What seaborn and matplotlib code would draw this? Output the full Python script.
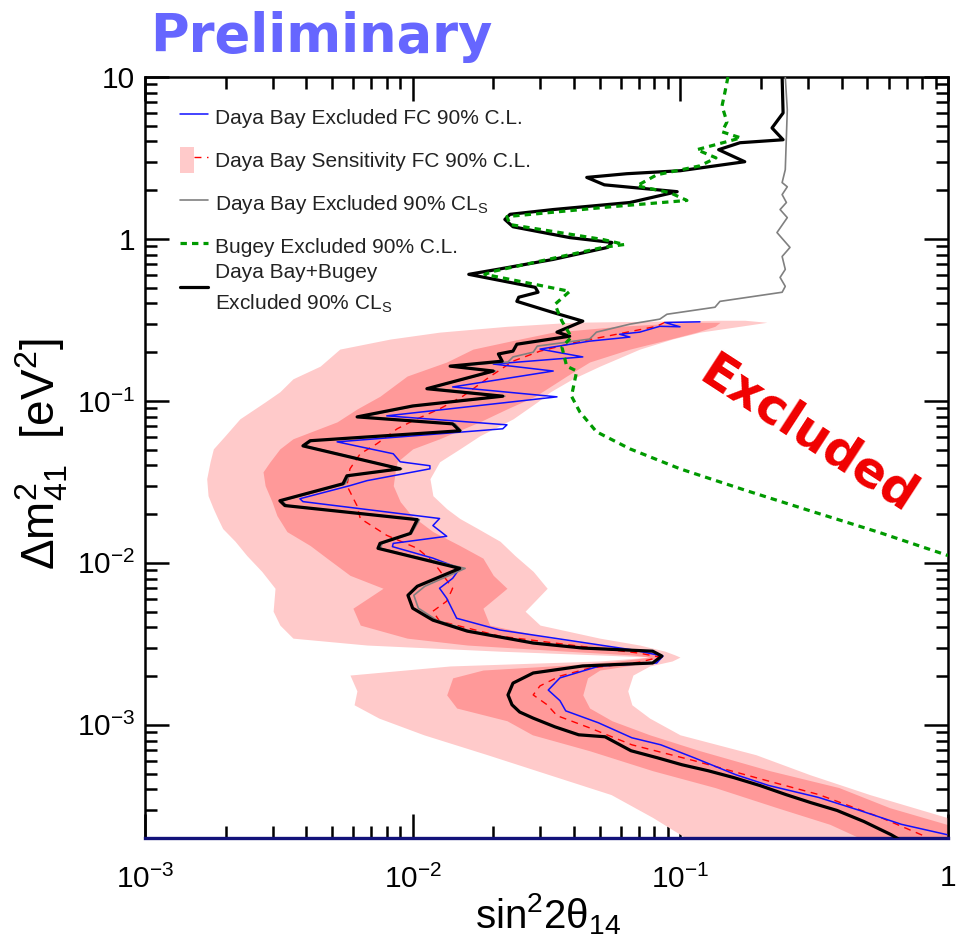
import numpy as np
import matplotlib
matplotlib.use("Agg")
import matplotlib.pyplot as plt
import seaborn as sns
from matplotlib.lines import Line2D
from matplotlib.patches import Patch
from matplotlib.legend_handler import HandlerTuple
from matplotlib.ticker import LogLocator, FuncFormatter, NullFormatter

# ---------------------------------------------------------------
# Exclusion contours in the (sin^2 2theta14, dm^2_41) plane
# ---------------------------------------------------------------

# Daya Bay + Bugey combined, 90% CLs
comb_s = [0.240, 0.242, 0.220, 0.242, 0.167, 0.139, 0.174, 0.100, 0.0631, 0.0447,
          0.052, 0.0973, 0.0648, 0.0335, 0.0231, 0.0221, 0.0237, 0.0386, 0.0555, 0.0535,
          0.0335, 0.0207, 0.0162, 0.0287, 0.0294, 0.0249, 0.0245, 0.0332, 0.0432, 0.0346,
          0.0386, 0.0245, 0.0237, 0.0209, 0.0216, 0.0138, 0.0200, 0.0113, 0.0217, 0.0100,
          0.0062, 0.0141, 0.0150, 0.00414, 0.00389, 0.00898, 0.00568, 0.00549, 0.00319, 0.00333,
          0.0104, 0.0098, 0.00755, 0.00742, 0.0150, 0.0104, 0.0096, 0.0100, 0.0119, 0.0160,
          0.0282, 0.0432, 0.0788, 0.0853, 0.0788, 0.0432, 0.0282, 0.0237, 0.0227, 0.0235,
          0.0251, 0.0282, 0.0340, 0.0417, 0.0523, 0.0654, 0.0818, 0.1014, 0.1268, 0.1586,
          0.1983, 0.248, 0.307, 0.385, 0.485, 0.612, 0.661]
comb_dm2 = [10.0, 6.00, 4.85, 4.10, 3.93, 3.56, 3.00, 2.64, 2.53, 2.40,
            2.16, 1.96, 1.68, 1.52, 1.42, 1.32, 1.19, 1.02, 0.952, 0.887,
            0.748, 0.649, 0.605, 0.503, 0.469, 0.437, 0.412, 0.353, 0.311, 0.266,
            0.251, 0.224, 0.203, 0.195, 0.176, 0.164, 0.153, 0.119, 0.107, 0.0931,
            0.0797, 0.0722, 0.0654, 0.0568, 0.0528, 0.0381, 0.0345, 0.0308, 0.0242, 0.0226,
            0.0185, 0.0152, 0.0132, 0.0123, 0.00925, 0.00717, 0.00631, 0.00525, 0.00443, 0.00379,
            0.00320, 0.00298, 0.00285, 0.00266, 0.00241, 0.00231, 0.00209, 0.00181, 0.00153, 0.00133,
            0.00120, 0.00110, 0.000972, 0.000868, 0.000844, 0.000692, 0.000627, 0.000567, 0.000521, 0.000472,
            0.000422, 0.000371, 0.000331, 0.000296, 0.000253, 0.000210, 0.000195]

# Bugey, 90% C.L.
bugey_s = [0.1506, 0.1468, 0.1431, 0.1493, 0.1431, 0.1682, 0.1153, 0.1359, 0.1184, 0.0816,
           0.0688, 0.0916, 0.1058, 0.0559, 0.0225, 0.0231, 0.0513, 0.0619, 0.0513, 0.0200,
           0.0186, 0.0386, 0.0340, 0.0361, 0.0392, 0.0361, 0.0376, 0.0410, 0.0392, 0.0421,
           0.0486, 0.0648, 0.0997, 0.1771, 0.313, 0.555, 1.0]
bugey_dm2 = [10.0, 8.09, 6.63, 5.28, 4.59, 4.21, 3.56, 3.17, 2.83, 2.49,
             2.13, 1.93, 1.73, 1.585, 1.375, 1.228, 0.993, 0.925, 0.887, 0.631,
             0.605, 0.475, 0.395, 0.311, 0.248, 0.215, 0.164, 0.153, 0.107, 0.0856,
             0.0645, 0.0506, 0.0381, 0.0279, 0.0207, 0.0154, 0.0111]

# Daya Bay alone, 90% CLs
dyb_cls_s = [0.2466, 0.2509, 0.2466, 0.2400, 0.2509, 0.2400, 0.249, 0.2358, 0.2509, 0.2296,
             0.2568, 0.2400, 0.2466, 0.2358, 0.2466, 0.2400, 0.1406, 0.1347, 0.0891, 0.0838,
             0.0648, 0.0486, 0.0458, 0.0292, 0.0282, 0.0237, 0.0227, 0.0140, 0.0204, 0.0116,
             0.0221, 0.0102, 0.0064, 0.0144, 0.0152, 0.0042, 0.00396, 0.0091, 0.0058, 0.0056,
             0.00325, 0.00339, 0.0106, 0.0099, 0.0077, 0.00755, 0.0157, 0.0111, 0.0101, 0.0105,
             0.0123, 0.0164, 0.0287, 0.0432, 0.0788, 0.0853, 0.0788, 0.0432, 0.0282, 0.0237,
             0.0227, 0.0235, 0.0251, 0.0282, 0.0340, 0.0417, 0.0523, 0.0654, 0.0818, 0.1014,
             0.1268, 0.1586, 0.1983, 0.248, 0.307, 0.385, 0.485, 0.612, 0.661]
dyb_cls_dm2 = [10.0, 6.27, 2.68, 2.23, 2.10, 1.88, 1.68, 1.52, 1.355, 1.096,
               0.887, 0.78, 0.649, 0.579, 0.51, 0.469, 0.412, 0.379, 0.343, 0.320,
               0.298, 0.266, 0.241, 0.218, 0.200, 0.187, 0.174, 0.164, 0.153, 0.120,
               0.107, 0.0931, 0.0797, 0.0722, 0.0654, 0.0568, 0.0528, 0.0381, 0.0345, 0.0308,
               0.0242, 0.0226, 0.0185, 0.0152, 0.0132, 0.0123, 0.00925, 0.00717, 0.00631, 0.00525,
               0.00443, 0.00379, 0.00320, 0.00298, 0.00285, 0.00266, 0.00241, 0.00231, 0.00209, 0.00181,
               0.00153, 0.00133, 0.00120, 0.00110, 0.000972, 0.000868, 0.000844, 0.000692, 0.000627, 0.000567,
               0.000521, 0.000472, 0.000422, 0.000371, 0.000331, 0.000296, 0.000253, 0.000210, 0.000195]

# Daya Bay alone, Feldman-Cousins 90% C.L.
dyb_fc_s = [0.1184, 0.0876, 0.0997, 0.0838, 0.0705, 0.0593, 0.0648, 0.0458, 0.0299, 0.0432,
            0.0200, 0.0335, 0.0141, 0.0346, 0.0080, 0.0225, 0.0217, 0.00522, 0.00846, 0.00898,
            0.0116, 0.0116, 0.00675, 0.00583, 0.00379, 0.00389, 0.0126, 0.0119, 0.0134, 0.00846,
            0.0084, 0.0119, 0.0150, 0.0141, 0.0126, 0.0134, 0.0146, 0.0212, 0.0376, 0.0665,
            0.0861, 0.0816, 0.0500, 0.0355, 0.0321, 0.0355, 0.0373, 0.0494, 0.0659, 0.0845,
            0.1124, 0.1612, 0.214, 0.329, 0.468, 0.670, 0.990]
dyb_fc_dm2 = [0.308, 0.305, 0.287, 0.289, 0.266, 0.258, 0.248, 0.234, 0.209, 0.187,
              0.169, 0.153, 0.122, 0.106, 0.0809, 0.0712, 0.0673, 0.0559, 0.0472, 0.0421,
              0.0398, 0.0381, 0.0322, 0.0300, 0.0249, 0.0239, 0.0188, 0.0170, 0.0146, 0.0132,
              0.0126, 0.0107, 0.00925, 0.00803, 0.00697, 0.00605, 0.00455, 0.00385, 0.00334, 0.00290,
              0.00266, 0.00241, 0.00231, 0.00195, 0.00164, 0.00141, 0.00122, 0.00103, 0.000832, 0.000753,
              0.000627, 0.000492, 0.000422, 0.000356, 0.000296, 0.000243, 0.000210]

# Daya Bay expected sensitivity (median), FC 90% C.L.
sens_s = [0.0876, 0.0816, 0.0531, 0.0410, 0.0299, 0.0237, 0.0194, 0.0154, 0.0126, 0.0100,
          0.00875, 0.00735, 0.00637, 0.00583, 0.00568, 0.00619, 0.00637, 0.0080, 0.0104, 0.0119,
          0.0126, 0.0141, 0.0134, 0.0119, 0.0126, 0.0212, 0.0421, 0.0705, 0.0838, 0.0705,
          0.0458, 0.0355, 0.0299, 0.0282, 0.0318, 0.0346, 0.0458, 0.0659, 0.1124, 0.1915,
          0.329, 0.56, 0.82]
sens_dm2 = [0.306, 0.289, 0.251, 0.231, 0.203, 0.176, 0.141, 0.107, 0.0893, 0.0753,
            0.0673, 0.0544, 0.0472, 0.0381, 0.0300, 0.0226, 0.0188, 0.0148, 0.0123, 0.0102,
            0.00899, 0.00697, 0.00580, 0.00503, 0.00437, 0.00353, 0.00306, 0.00277, 0.00262, 0.00244,
            0.00224, 0.00200, 0.00174, 0.00153, 0.00133, 0.00114, 0.000958, 0.000753, 0.000601, 0.000472,
            0.000371, 0.000268, 0.000205]

# Sensitivity bands: outer (2 sigma) and inner (1 sigma)
band2_dm2 = [0.315, 0.306, 0.289, 0.266, 0.241, 0.209, 0.164, 0.137, 0.114, 0.0986,
             0.0775, 0.0609, 0.0506, 0.0421, 0.0331, 0.0260, 0.0216, 0.0188, 0.0163, 0.0136,
             0.0111, 0.00886, 0.00697, 0.00503, 0.00413, 0.00343, 0.00311, 0.00285, 0.00270, 0.00262,
             0.00248, 0.00231, 0.00203, 0.00162, 0.00133, 0.00110, 0.000868, 0.000654, 0.000492, 0.000371,
             0.000268, 0.000200]
band2_lo = [0.1406, 0.0396, 0.0225, 0.0126, 0.00823, 0.00534, 0.00451, 0.00357, 0.00319, 0.00281,
            0.00226, 0.00199, 0.00180, 0.00175, 0.00170, 0.00172, 0.00180, 0.00187, 0.00195, 0.00217,
            0.00240, 0.00273, 0.00306, 0.00301, 0.00319, 0.00357, 0.00675, 0.0212, 0.0500, 0.0768,
            0.0500, 0.0138, 0.00583, 0.00619, 0.00604, 0.00748, 0.0110, 0.0190, 0.0324, 0.0551,
            0.0788, 0.105]
band2_hi = [0.1740, 0.2105, 0.1668, 0.1184, 0.0932, 0.0705, 0.0500, 0.0396, 0.0327, 0.0292,
            0.0237, 0.0178, 0.0150, 0.0126, 0.0116, 0.0119, 0.0134, 0.0150, 0.0175, 0.0212,
            0.0241, 0.0282, 0.0318, 0.0263, 0.0299, 0.0500, 0.0705, 0.0876, 0.0956, 0.0997,
            0.0932, 0.0768, 0.0665, 0.0636, 0.0659, 0.0768, 0.0997, 0.1915, 0.305, 0.510,
            0.99, 1.34]

band1_dm2 = [0.306, 0.289, 0.266, 0.241, 0.209, 0.174, 0.1425, 0.107, 0.0893, 0.0743,
             0.0584, 0.0506, 0.0421, 0.0365, 0.0300, 0.0239, 0.0196, 0.0156, 0.0128, 0.0107,
             0.00838, 0.00697, 0.00525, 0.00413, 0.00343, 0.00311, 0.00285, 0.00270, 0.00262, 0.00248,
             0.00234, 0.00218, 0.00195, 0.00153, 0.00127, 0.00106, 0.000868, 0.000692, 0.000521, 0.000410,
             0.000308, 0.000243, 0.000200]
band1_lo = [0.109, 0.0593, 0.0335, 0.0251, 0.0168, 0.0134, 0.00953, 0.00755, 0.0062, 0.00522,
            0.00357, 0.00319, 0.00293, 0.00276, 0.00281, 0.00298, 0.00311, 0.00339, 0.00414, 0.00478,
            0.00583, 0.00775, 0.00598, 0.00637, 0.00953, 0.0160, 0.0376, 0.0665, 0.0768, 0.0593,
            0.0376, 0.0183, 0.0141, 0.0134, 0.0146, 0.0225, 0.0280, 0.0458, 0.0788, 0.1347,
            0.2296, 0.362, 0.468]
band1_hi = [0.1406, 0.1347, 0.1153, 0.0916, 0.0648, 0.0458, 0.0376, 0.0287, 0.0225, 0.0178,
            0.0126, 0.0100, 0.00875, 0.0086, 0.00846, 0.00898, 0.0099, 0.0119, 0.0150, 0.0183,
            0.0200, 0.0225, 0.0183, 0.0194, 0.0327, 0.0500, 0.0705, 0.0838, 0.0861, 0.0736,
            0.0665, 0.0500, 0.0450, 0.0432, 0.0458, 0.0555, 0.0768, 0.1184, 0.2160, 0.391,
            0.605, 0.99, 1.34]

legend_labels = [
    "Daya Bay Excluded FC 90% C.L.",
    "Daya Bay Sensitivity FC 90% C.L.",
    "Daya Bay Excluded 90% CL$_{S}$",
    "Bugey Excluded 90% C.L.",
]
combined_label = "Daya Bay+Bugey\nExcluded 90% CL$_{S}$"

# ---------------------------------------------------------------
sns.set_theme(style="ticks")
plt.rcParams["font.family"] = ["Liberation Sans", "DejaVu Sans"]
plt.rcParams["mathtext.default"] = "regular"

C_BAND2 = "#ffcaca"
C_BAND1 = "#ff9999"
C_GREEN = "#009a00"
C_BLUE = "#1010ff"
C_GRAY = "#808080"

fig = plt.figure(figsize=(9.61, 9.43), dpi=100)
ax = fig.add_axes([0.1509, 0.1113, 0.8356, 0.8070])
ax.set_xscale("log")
ax.set_yscale("log")

ax.fill_betweenx(band2_dm2, band2_lo, band2_hi, color=C_BAND2, lw=0, zorder=1)
ax.fill_betweenx(band1_dm2, band1_lo, band1_hi, color=C_BAND1, lw=0, zorder=2)

sns.lineplot(x=sens_s, y=sens_dm2, sort=False, estimator=None, color="red",
             lw=1.0, ls=(0, (5, 4)), ax=ax, zorder=3)
sns.lineplot(x=dyb_fc_s, y=dyb_fc_dm2, sort=False, estimator=None, color=C_BLUE,
             lw=1.1, ax=ax, zorder=4)
sns.lineplot(x=dyb_cls_s, y=dyb_cls_dm2, sort=False, estimator=None, color=C_GRAY,
             lw=1.2, ax=ax, zorder=5)
sns.lineplot(x=comb_s, y=comb_dm2, sort=False, estimator=None, color="black",
             lw=2.3, ax=ax, zorder=6)
sns.lineplot(x=bugey_s, y=bugey_dm2, sort=False, estimator=None, color=C_GREEN,
             lw=2.3, ls=(0, (2, 1.6)), ax=ax, zorder=7)

ax.set_xlim(1e-3, 1)
ax.set_ylim(2e-4, 10)


def decade_label(v, pos):
    e = int(round(np.log10(v)))
    if e == 0:
        return "1"
    if e == 1:
        return "10"
    return "10$^{%d}$" % e


for axis in (ax.xaxis, ax.yaxis):
    axis.set_major_locator(LogLocator(base=10, numticks=12))
    axis.set_minor_locator(LogLocator(base=10, subs=np.arange(2, 10), numticks=40))
    axis.set_major_formatter(FuncFormatter(decade_label))
    axis.set_minor_formatter(NullFormatter())

ax.tick_params(which="both", direction="in", top=True, right=True, width=1.8,
               color="black", labelcolor="black")
ax.tick_params(which="major", length=17, labelsize=21.5)
ax.tick_params(axis="x", which="major", pad=19)
ax.tick_params(axis="y", which="major", pad=7)
ax.tick_params(which="minor", length=8.5)
for sp in ax.spines.values():
    sp.set_linewidth(1.8)
    sp.set_color("black")
ax.spines["bottom"].set_color("#12127a")
ax.spines["bottom"].set_linewidth(2.4)

ax.set_xlabel("sin$^{2}$2θ$_{14}$", fontsize=29, color="black")
ax.set_ylabel("Δm$^{2}_{41}$  [eV$^{2}$]", fontsize=33, color="black")
ax.xaxis.set_label_coords(0.502, -0.07)
ax.yaxis.set_label_coords(-0.093, 0.505)

handles = [
    Line2D([], [], color=C_BLUE, lw=1.1),
    (Patch(facecolor=C_BAND2, edgecolor="none"),
     Line2D([], [], color="red", lw=1.0, ls=(0, (5, 4)))),
    Line2D([], [], color=C_GRAY, lw=1.2),
    Line2D([], [], color=C_GREEN, lw=2.3, ls=(0, (2, 1.6))),
]
leg = ax.legend(handles, legend_labels,
                handler_map={tuple: HandlerTuple(ndivide=None, pad=0)},
                loc="upper left", bbox_to_anchor=(0.0436, 0.9645),
                frameon=False, fontsize=15, handlelength=1.35, handleheight=1.5,
                handletextpad=0.35, labelspacing=0.85, borderpad=0, borderaxespad=0)
for t in leg.get_texts():
    t.set_color("#222222")
ax.add_artist(leg)

leg2 = ax.legend([Line2D([], [], color="black", lw=2.3)], [combined_label],
                 loc="center left", bbox_to_anchor=(0.0436, 0.7214),
                 frameon=False, fontsize=15, handlelength=1.35, handleheight=1.5,
                 handletextpad=0.35, borderpad=0, borderaxespad=0)
for t in leg2.get_texts():
    t.set_color("#222222")
    t.set_linespacing(1.6)

ax.text(0.826, 0.530, "Excluded", transform=ax.transAxes, rotation=-33,
        rotation_mode="anchor", ha="center", va="center", color="#f00000",
        fontsize=35, fontweight="bold", family=["DejaVu Sans"], zorder=8)

fig.text(150 / 961, 1 - 52 / 943, "Preliminary", color="#6666ff", fontsize=38,
         fontweight="bold", family=["DejaVu Sans"], ha="left", va="baseline")

fig.savefig("out.png", dpi=100)
